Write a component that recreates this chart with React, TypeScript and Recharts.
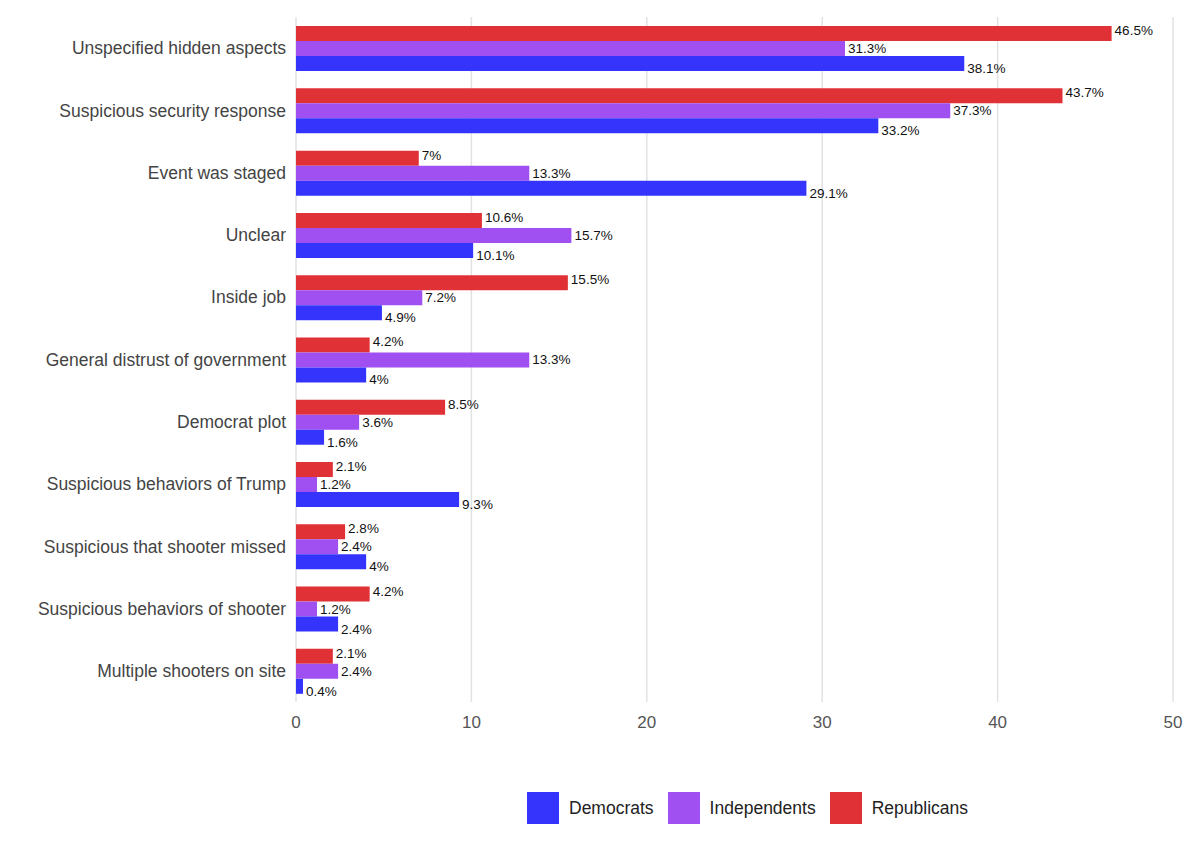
import React from "react";
import { BarChart, Bar, XAxis, YAxis, CartesianGrid, LabelList } from "recharts";

const categories = [
  "Unspecified hidden aspects",
  "Suspicious security response",
  "Event was staged",
  "Unclear",
  "Inside job",
  "General distrust of government",
  "Democrat plot",
  "Suspicious behaviors of Trump",
  "Suspicious that shooter missed",
  "Suspicious behaviors of shooter",
  "Multiple shooters on site",
];

const republicans = [46.5, 43.7, 7, 10.6, 15.5, 4.2, 8.5, 2.1, 2.8, 4.2, 2.1];
const independents = [31.3, 37.3, 13.3, 15.7, 7.2, 13.3, 3.6, 1.2, 2.4, 1.2, 2.4];
const democrats = [38.1, 33.2, 29.1, 10.1, 4.9, 4, 1.6, 9.3, 4, 2.4, 0.4];

const xTicks = [0, 10, 20, 30, 40, 50];

const COLORS = {
  Democrats: "#3434fd",
  Independents: "#a04ff0",
  Republicans: "#e03236",
};

const FONT = "'Liberation Sans', Arial, Helvetica, sans-serif";

const data = categories.map((name, i) => ({
  name,
  Republicans: republicans[i],
  Independents: independents[i],
  Democrats: democrats[i],
}));

// value label just right of the bar end, nudged up/down per series
const makeLabel = (dy: number) => (props: any) => {
  const { x, y, width, height, value } = props;
  return (
    <text
      x={x + width + 3}
      y={y + height / 2 + dy}
      dominantBaseline="central"
      fontSize={13.5}
      fontFamily={FONT}
      fill="#111"
    >
      {`${value}%`}
    </text>
  );
};

const legendItems = ["Democrats", "Independents", "Republicans"] as const;

export default function App() {
  return (
    <div style={{ position: "absolute", left: 0, top: 0, width: 1200, height: 847, background: "#fff", fontFamily: FONT }}>
      <BarChart
        width={1200}
        height={847}
        data={data}
        layout="vertical"
        margin={{ top: 17, right: 27, bottom: 115, left: 0 }}
        barCategoryGap="14.6%"
        barGap={0}
      >
        <CartesianGrid horizontal={false} stroke="#e2e2e2" strokeWidth={1.5} />
        <XAxis
          type="number"
          domain={[0, 50]}
          ticks={xTicks}
          axisLine={false}
          tickLine={false}
          tickSize={0}
          tickMargin={14}
          height={30}
          tick={{ fill: "#555", fontSize: 17, fontFamily: FONT }}
        />
        <YAxis
          type="category"
          dataKey="name"
          width={296}
          axisLine={false}
          tickLine={false}
          tickSize={0}
          tickMargin={10}
          interval={0}
          tick={{ fill: "#444", fontSize: 17.5, fontFamily: FONT }}
        />
        <Bar dataKey="Republicans" fill={COLORS.Republicans} isAnimationActive={false}>
          <LabelList dataKey="Republicans" content={makeLabel(-3)} />
        </Bar>
        <Bar dataKey="Independents" fill={COLORS.Independents} isAnimationActive={false}>
          <LabelList dataKey="Independents" content={makeLabel(0)} />
        </Bar>
        <Bar dataKey="Democrats" fill={COLORS.Democrats} isAnimationActive={false}>
          <LabelList dataKey="Democrats" content={makeLabel(5)} />
        </Bar>
      </BarChart>

      {/* legend */}
      <div style={{ position: "absolute", left: 527, top: 792, display: "flex", alignItems: "center" }}>
        {legendItems.map((k) => (
          <div key={k} style={{ display: "flex", alignItems: "center", marginRight: 14 }}>
            <span style={{ width: 32, height: 32, background: COLORS[k], display: "inline-block", marginRight: 10 }} />
            <span style={{ fontSize: 17.5, color: "#222" }}>{k}</span>
          </div>
        ))}
      </div>
    </div>
  );
}
